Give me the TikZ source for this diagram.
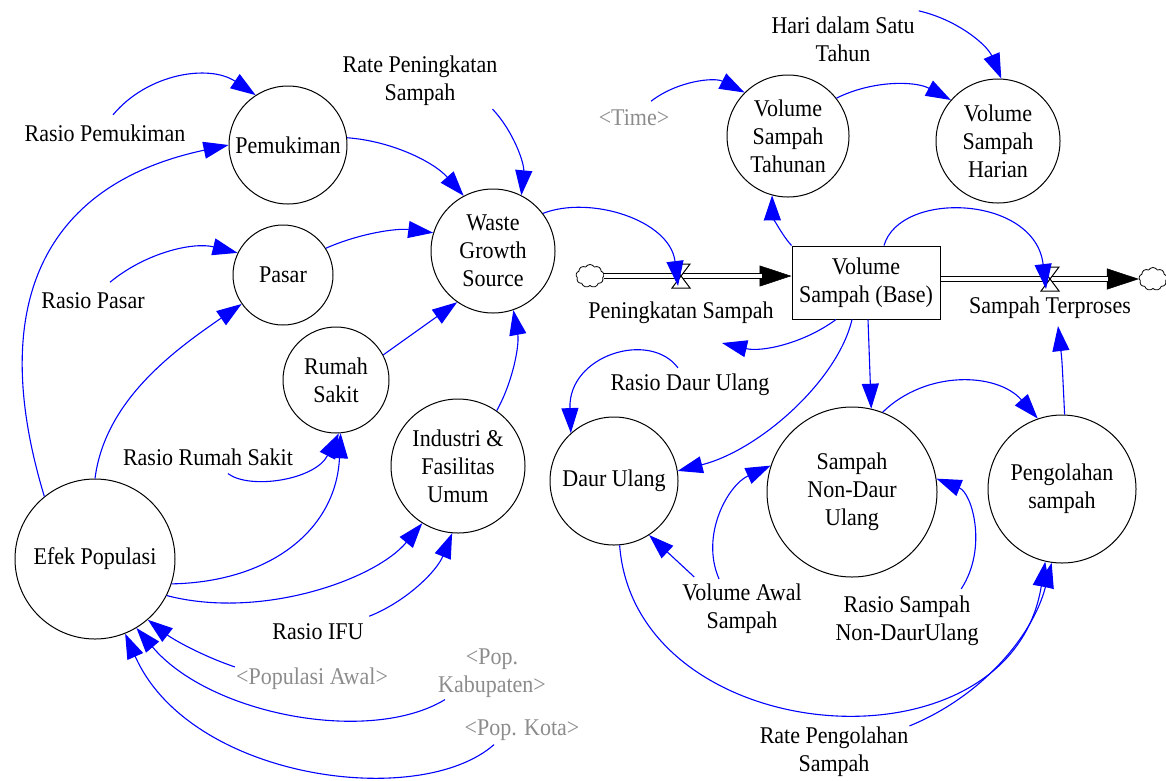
\documentclass[tikz,border=0pt]{standalone}
\usepackage{fontspec}
\setmainfont{Liberation Serif}[FakeStretch=0.917]
\usetikzlibrary{arrows.meta,shapes.symbols,shapes.geometric}
\definecolor{vblue}{RGB}{0,0,255}
\definecolor{vgray}{RGB}{140,140,140}
\begin{document}
\begin{tikzpicture}[x=1pt,y=-1pt,
  font=\fontsize{24}{28}\selectfont,
  aux/.style={circle, draw, line width=1pt, inner sep=0pt, align=center},
  lbl/.style={inner sep=1pt, align=center},
  glbl/.style={lbl, text=vgray},
  link/.style={draw=vblue, line width=1.1pt, -{Triangle[length=25pt,width=17pt]}},
  pipe/.style={double distance=4.5pt, line width=1.2pt, draw=black},
  flowtip/.style={line width=0.5pt, -{Triangle[length=32pt,width=21pt]}},
  cloudy/.style={cloud, draw, cloud puffs=9, cloud puff arc=120, aspect=1.2, minimum width=28pt, minimum height=23pt, inner sep=0pt, line width=0.8pt},
  valvebox/.style={fill=white, draw=black, line width=1pt}
]
\useasboundingbox (0,0) rectangle (1166,780);

% ---------- auxiliaries (circles) ----------
\node[aux, minimum size=118pt] (pem) at (288,145) {Pemukiman};
\node[aux, minimum size=100pt] (pas) at (283,275) {Pasar};
\node[aux, minimum size=106pt] (rs) at (336,380) {Rumah\\Sakit};
\node[aux, minimum size=134pt] (ifu) at (458,466) {Industri \&\\Fasilitas\\Umum};
\node[aux, minimum size=124pt] (wgs) at (493,251) {Waste\\Growth\\Source};
\node[aux, minimum size=160pt] (efek) at (95,559) {Efek Populasi};
\node[aux, minimum size=128pt] (du) at (614,481) {Daur Ulang};
\node[aux, minimum size=170pt] (sndu) at (852,492) {Sampah\\Non-Daur\\Ulang};
\node[aux, minimum size=148pt] (peng) at (1062,489) {Pengolahan\\sampah};
\node[aux, minimum size=122pt] (vst) at (788,136) {Volume\\Sampah\\Tahunan};
\node[aux, minimum size=124pt] (vsh) at (998,141) {Volume\\Sampah\\Harian};

% ---------- stock ----------
\node[draw, line width=1pt, rectangle, minimum width=148pt, minimum height=73pt, inner sep=0pt, align=center, fill=white] (st) at (866,282.5) {Volume\\Sampah (Base)};

% ---------- labels ----------
\node[lbl] (rpm) at (105,133) {Rasio Pemukiman};
\node[lbl] (rpa) at (93,301) {Rasio Pasar};
\node[lbl] (rrs) at (208,457) {Rasio Rumah Sakit};
\node[lbl] (rifu) at (318,632) {Rasio IFU};
\node[glbl] (pa) at (312,679) {<Populasi Awal>};
\node[glbl] (pk) at (492,673) {<Pop.\\Kabupaten>};
\node[glbl] (pko) at (522,730) {<Pop. Kota>};
\node[lbl] (rps) at (420,81) {Rate Peningkatan\\Sampah};
\node[glbl] (time) at (634,118) {<Time>};
\node[lbl] (hari) at (843,39) {Hari dalam Satu\\Tahun};
\node[lbl] (pslbl) at (681,313) {Peningkatan Sampah};
\node[lbl] (stlbl) at (1050,308) {Sampah Terproses};
\node[lbl] (rdu) at (690,385) {Rasio Daur Ulang};
\node[lbl] (vas) at (742,609) {Volume Awal\\Sampah};
\node[lbl] (rsn) at (907,621) {Rasio Sampah\\Non-DaurUlang};
\node[lbl] (rpg) at (834,752) {Rate Pengolahan\\Sampah};

% ---------- flows ----------
\node[cloudy] (cl1) at (590,276) {};
\node[cloudy] (cl2) at (1153,279) {};
\coordinate (v1) at (681,276);
\coordinate (v2) at (1050,279);
\coordinate (v1tip) at (678,286);
\coordinate (v2tip) at (1046,289);
\coordinate (fr) at (722,343);

\draw[flowtip] (cl1.east) -- (cl1.east -| st.west);
\draw[pipe, shorten >=30pt] (cl1.east) -- (cl1.east -| st.west);
\draw[flowtip] (st.east |- cl2.west) -- (cl2.west);
\draw[pipe, shorten >=31pt] (st.east |- cl2.west) -- (cl2.west);

\draw[valvebox] ([shift={(-9,-12)}]v1) -- ([shift={(9,-12)}]v1) -- ([shift={(-9,12)}]v1) -- ([shift={(9,12)}]v1) -- cycle;
\draw[valvebox] ([shift={(-9,-12)}]v2) -- ([shift={(9,-12)}]v2) -- ([shift={(-9,12)}]v2) -- ([shift={(9,12)}]v2) -- cycle;

% ---------- links ----------
\draw[link] ([shift={(8,-8.5)}]rpm.north) .. controls (147.7,73.2) and (209.5,64) .. (pem.123);
\draw[link] (efek.129) .. controls (-16,297) and (50,183) .. (pem.west);
\draw[link] ([shift={(17,-9.5)}]rpa.north) .. controls (145.3,252.9) and (192.9,241.7) .. (pas.154);
\draw[link] (efek.north) .. controls (105,400) and (175,350) .. (pas.215);
\draw[link] (pem.7) .. controls (391.9,141) and (434,162.1) .. (wgs.118);
\draw[link] ([shift={(-6,2)}]rps.south east) .. controls (513.8,131.7) and (524.4,163.7) .. (wgs.63);
\draw[link] (pas.32) .. controls (359.4,233.4) and (396.9,228) .. (wgs.163);
\draw[link] (rs.28) -- (wgs.235);
\draw[link] (ifu.55) .. controls (513.5,380.4) and (519.5,344) .. (wgs.289);
\draw[link] ([shift={(20,7)}]rrs.south) .. controls (250,490) and (315,480) .. (rs.273);
\draw[link] (efek.342) .. controls (270,582) and (336,530) .. (rs.275);
\draw[link] (efek.333) .. controls (260,620) and (375,580) .. (ifu.238);
\draw[link] ([shift={(4.5,-6.5)}]rifu.north east) .. controls (406.9,601.2) and (436.9,570.9) .. (ifu.265);
\draw[link] (pa.north west) .. controls (203.2,656.3) and (173.5,639.7) .. (efek.311);
\draw[link] ([shift={(8,1)}]pk.south west) .. controls (370,745) and (210,715) .. (efek.301);
\draw[link] ([shift={(-28,3)}]pko.south) .. controls (420,810) and (190,780) .. (efek.292);
\draw[link] ([shift={(17,-7.5)}]time.north) .. controls (677.8,80.6) and (714.5,77.1) .. (vst.135);
\draw[link] ([shift={(3,-4.5)}]hari.north east) .. controls (957.1,19.6) and (987.1,44.8) .. (vsh.87);
\draw[link] (vst.38) .. controls (872.5,80.2) and (915.1,80.8) .. (vsh.139);
\draw[link] (st.north west) .. controls (779.3,231.9) and (772.3,213.9) .. (vst.255);
\draw[link] ([shift={(18,0)}]st.north) .. controls (900,190) and (1035,195) .. (v2tip);
\draw[link] (wgs.37) .. controls (590,195) and (670,220) .. (v1tip);
\draw[link] ([shift={(-30,0)}]st.south) .. controls (803.4,343.5) and (761.8,352.3) .. (fr);
\draw[link] ([shift={(-14,0)}]st.south) .. controls (838,380) and (760,450) .. (du.9);
\draw[link] ([shift={(2,0)}]st.south) -- (sndu.77);
\draw[link] (sndu.69) .. controls (926.6,369.5) and (997.5,372.5) .. (peng.109);
\draw[link] (peng.88) .. controls (1062,360) .. ([shift={(8,6)}]stlbl.south);
\draw[link] ([shift={(-12,-5)}]rdu.north) .. controls (650,330) and (568,355) .. (du.132);
\draw[link] ([shift={(13,-6)}]vas.north west) -- (du.303);
\draw[link] ([shift={(-23,-4)}]vas.north) .. controls (700,535) and (728,485) .. (sndu.162);
\draw[link] ([shift={(-18.5,-6)}]rsn.north east) .. controls (988,548) and (972,493) .. (sndu.9);
\draw[link] (du.275) .. controls (635,750) and (1010,780) .. (peng.257);
\draw[link] (rpg.north east) .. controls (981.6,696.5) and (1032.9,635.8) .. (peng.262);
\end{tikzpicture}
\end{document}
